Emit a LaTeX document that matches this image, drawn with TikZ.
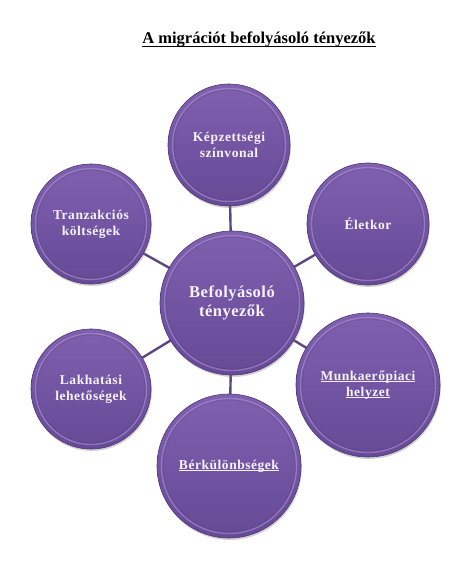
\documentclass[tikz,border=0pt]{standalone}
\usepackage{fontspec}
\setmainfont{Liberation Serif}
\usetikzlibrary{shadows}
\definecolor{bubtop}{HTML}{7F60AF}
\definecolor{bubbot}{HTML}{664A96}
\definecolor{bubedge}{HTML}{4E3776}
\definecolor{linkcol}{HTML}{5C4785}
\definecolor{rimcol}{HTML}{A991D2}
\definecolor{txtcol}{HTML}{F6F1FB}
\newcommand\myul[2][1.6pt]{\setbox0\hbox{#2}\rlap{\rule[-#1]{\wd0}{0.9pt}}\box0}
\tikzset{
  bubble/.style={circle, minimum size=2*#1, inner sep=0pt, align=center,
    top color=bubtop, bottom color=bubbot, draw=bubedge, line width=0.6pt,
    text=txtcol, font=\bfseries\fontsize{13.5}{16}\selectfont\addfontfeature{LetterSpace=4},
    drop shadow={shadow xshift=0.8pt, shadow yshift=-2pt, opacity=0.35},
    path picture={
      \draw[rimcol, opacity=0.6, line width=1.4pt]
        (path picture bounding box.center) circle (#1-4.5pt);
      \draw[bubedge, opacity=0.25, line width=0.8pt]
        (path picture bounding box.center) circle (#1-6pt);
    }},
  link/.style={draw=linkcol, line width=2.4pt}
}
\begin{document}
\begin{tikzpicture}[x=1pt, y=-1pt]
\useasboundingbox (0,0) rectangle (475,563);
\node[font=\bfseries\fontsize{16.5}{19}\selectfont] (title) at (259,40)
  {\myul[2.6pt]{A migrációt befolyásoló tényezők}};
% coordinates for centers
\coordinate (pC) at (232,303);
\coordinate (pK) at (229,145);
\coordinate (pT) at (91,224);
\coordinate (pE) at (368,224);
\coordinate (pL) at (91,389);
\coordinate (pM) at (368,385);
\coordinate (pB) at (229,466);
% connectors
\draw[link] (pC) -- (pK);
\draw[link] (pC) -- (pT);
\draw[link] (pC) -- (pE);
\draw[link] (pC) -- (pL);
\draw[link] (pC) -- (pM);
\draw[link] (pC) -- (pB);
% bubbles
\node[bubble=61pt] (K) at (pK) {Képzettségi\\színvonal};
\node[bubble=60pt] (T) at (pT) {Tranzakciós\\költségek};
\node[bubble=61pt] (E) at (pE) {Életkor};
\node[bubble=60pt] (L) at (pL) {Lakhatási\\lehetőségek};
\node[bubble=72pt] (M) at (pM) {\myul{Munkaerőpiaci}\\\myul{helyzet}};
\node[bubble=72pt] (B) at (pB) {\myul{Bérkülönbségek}};
\node[bubble=72pt, font=\bfseries\fontsize{16.5}{18.5}\selectfont\addfontfeature{LetterSpace=3}] (C) at (pC)
  {Befolyásoló\\tényezők};
\end{tikzpicture}
\end{document}
